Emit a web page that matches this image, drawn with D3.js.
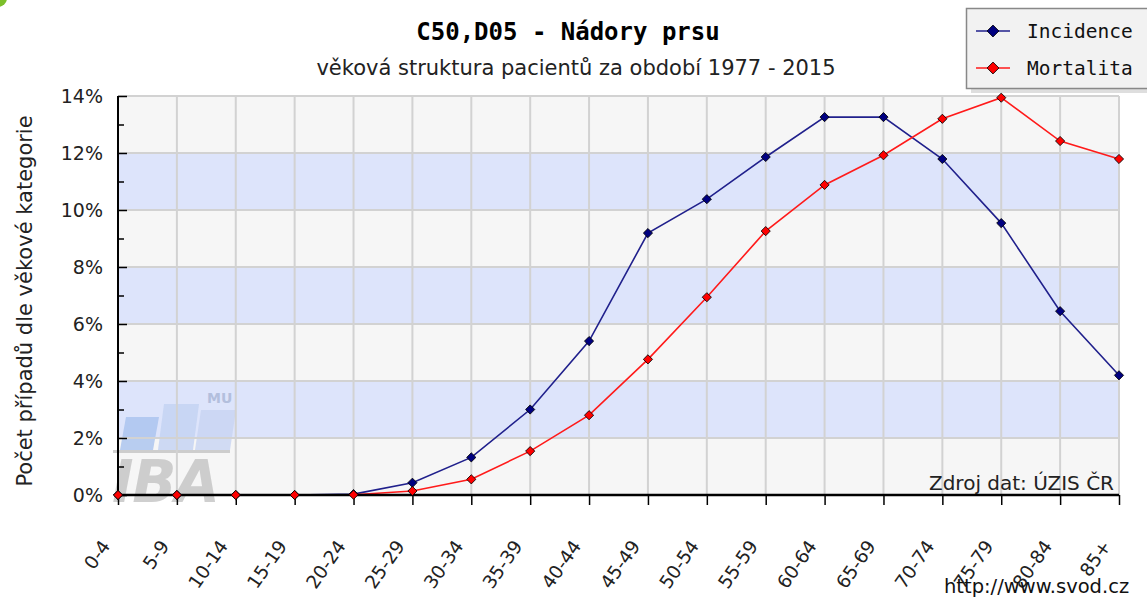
<!DOCTYPE html>
<html lang="cs">
<head>
  <meta charset="UTF-8">
  <title>C50,D05 - Nádory prsu</title>
  <script src="https://d3js.org/d3.v7.min.js"></script>
  <style>
    body { margin: 0; background: #fff; }
    svg { display: block; }
  </style>
</head>
<body>
  <svg id="chart" width="1147" height="599"></svg>
  <script>
    // age groups and shares (% of cases per age group)
    const ageGroups = ['0-4', '5-9', '10-14', '15-19', '20-24', '25-29', '30-34', '35-39', '40-44',
      '45-49', '50-54', '55-59', '60-64', '65-69', '70-74', '75-79', '80-84', '85+'];
    const incidence = [0, 0, 0, 0, 0.03, 0.43, 1.32, 3.0, 5.4, 9.19, 10.38, 11.86, 13.26, 13.26, 11.79, 9.54, 6.45, 4.2];
    const mortalita = [0, 0, 0, 0, 0.01, 0.14, 0.55, 1.54, 2.8, 4.76, 6.94, 9.26, 10.88, 11.92, 13.2, 13.94, 12.42, 11.79];
    const yTicks = [0, 2, 4, 6, 8, 10, 12, 14];

    const series = [
      { name: 'Incidence', values: incidence, color: '#20208c', fill: '#000080' },
      { name: 'Mortalita', values: mortalita, color: '#ff1a1a', fill: '#ff0000' }
    ];

    const svg = d3.select('#chart');
    const plotL = 118, plotR = 1119, plotT = 96, plotB = 495;

    const x = d3.scalePoint().domain(ageGroups).range([plotL, plotR]);
    const y = d3.scaleLinear().domain([0, 14]).range([plotB, plotT]);

    // small green corner mark
    svg.append('circle').attr('cx', -2).attr('cy', -2).attr('r', 9).attr('fill', '#7cbf2a');

    // background bands
    for (let i = 0; i < yTicks.length - 1; i++) {
      svg.append('rect')
        .attr('x', plotL).attr('width', plotR - plotL)
        .attr('y', y(yTicks[i + 1])).attr('height', y(yTicks[i]) - y(yTicks[i + 1]))
        .attr('fill', i % 2 === 1 ? '#dde4fb' : '#f6f6f6');
    }

    // watermark logo
    const wm = svg.append('g').attr('opacity', 0.8);
    [[122, 417, 33], [160, 404, 35], [197, 410, 35]].forEach(([bx, by, bw], i) => {
      wm.append('path')
        .attr('d', `M${bx + 4},${by} L${bx + bw + 4},${by} L${bx + bw - 2},450 L${bx - 2},450 Z`)
        .attr('fill', ['#a9c3ef', '#c3d3f3', '#c8d5f3'][i]);
    });
    wm.append('rect').attr('x', 113).attr('y', 450).attr('width', 117).attr('height', 3).attr('fill', '#c4c4c4');
    wm.append('text').attr('x', 207).attr('y', 403)
      .attr('font-family', 'DejaVu Sans').attr('font-weight', 'bold').attr('font-size', 14)
      .attr('fill', '#a9b6d6').text('MU');
    wm.append('text').attr('x', 112).attr('y', 502)
      .attr('font-family', 'DejaVu Sans').attr('font-weight', 'bold').attr('font-style', 'italic')
      .attr('font-size', 58).attr('fill', '#c4c4c4').attr('textLength', 108).text('IBA');

    // grid
    svg.append('g').selectAll('line').data(yTicks.slice(1)).enter().append('line')
      .attr('x1', plotL).attr('x2', plotR)
      .attr('y1', d => y(d)).attr('y2', d => y(d))
      .attr('stroke', '#d2d2d2').attr('stroke-width', 2);
    svg.append('g').selectAll('line').data(ageGroups.slice(1)).enter().append('line')
      .attr('x1', d => x(d)).attr('x2', d => x(d))
      .attr('y1', plotT).attr('y2', plotB)
      .attr('stroke', '#d2d2d2').attr('stroke-width', 2);

    // lines
    const line = d3.line().x((d, i) => x(ageGroups[i])).y(d => y(d));
    series.forEach(s => {
      svg.append('path').datum(s.values)
        .attr('d', line).attr('fill', 'none')
        .attr('stroke', s.color).attr('stroke-width', 1.6);
    });

    // axes
    const yAxis = d3.axisLeft(y).tickValues(d3.range(0, 15, 1)).tickSize(-9).tickFormat('');
    const gy = svg.append('g').attr('transform', `translate(${plotL},0)`).call(yAxis);
    gy.selectAll('.tick line').attr('x2', d => d % 2 === 0 ? 9 : 6).attr('stroke', '#000').attr('stroke-width', 1.5);
    gy.select('.domain').attr('stroke', '#000').attr('stroke-width', 2).attr('d', `M0,${plotT}V${plotB}`);

    svg.append('g').selectAll('text').data(yTicks).enter().append('text')
      .attr('x', 103).attr('y', d => y(d) + 7)
      .attr('text-anchor', 'end')
      .attr('font-family', 'DejaVu Sans').attr('font-size', 19)
      .attr('fill', '#222').text(d => d + '%');

    const xAxis = d3.axisBottom(x).tickSize(10).tickFormat('');
    const gx = svg.append('g').attr('transform', `translate(0,${plotB})`).call(xAxis);
    gx.selectAll('.tick line').attr('stroke', '#000').attr('stroke-width', 1.5);
    gx.select('.domain').attr('stroke', '#000').attr('stroke-width', 2.5).attr('d', `M${plotL},0H${plotR}`);

    svg.append('g').selectAll('text').data(ageGroups).enter().append('text')
      .attr('transform', d => `translate(${x(d) - 7},${plotB + 51}) rotate(-55)`)
      .attr('text-anchor', 'end')
      .attr('font-family', 'DejaVu Sans').attr('font-size', 18.5)
      .attr('fill', '#222').text(d => d);

    // markers drawn over the axis
    const diamond = d3.symbol().type(d3.symbolSquare).size(42);
    series.forEach(s => {
      svg.append('g').selectAll('path').data(s.values).enter().append('path')
        .attr('d', diamond)
        .attr('transform', (d, i) => `translate(${x(ageGroups[i])},${y(d)}) rotate(45)`)
        .attr('fill', s.fill).attr('stroke', '#000').attr('stroke-width', 0.8);
    });

    // titles
    svg.append('text').attr('x', 568).attr('y', 40).attr('text-anchor', 'middle')
      .attr('font-family', 'DejaVu Sans Mono').attr('font-weight', 'bold').attr('font-size', 24)
      .attr('fill', '#000').text('C50,D05 - Nádory prsu');
    svg.append('text').attr('x', 576).attr('y', 75).attr('text-anchor', 'middle')
      .attr('font-family', 'DejaVu Sans').attr('font-size', 21)
      .attr('fill', '#222').text('věková struktura pacientů za období 1977 - 2015');
    svg.append('text')
      .attr('transform', 'translate(32,301) rotate(-90)').attr('text-anchor', 'middle')
      .attr('font-family', 'DejaVu Sans').attr('font-size', 21)
      .attr('fill', '#222').text('Počet případů dle věkové kategorie');

    svg.append('text').attr('x', 1114).attr('y', 490).attr('text-anchor', 'end')
      .attr('font-family', 'DejaVu Sans').attr('font-size', 20)
      .attr('fill', '#222').text('Zdroj dat: ÚZIS ČR');
    svg.append('text').attr('x', 944).attr('y', 593)
      .attr('font-family', 'DejaVu Sans').attr('font-size', 19.5)
      .attr('fill', '#111').text('http://www.svod.cz');

    // legend
    const lg = svg.append('g');
    lg.append('rect').attr('x', 971).attr('y', 13).attr('width', 180).attr('height', 80)
      .attr('fill', '#c8c8c8').attr('opacity', 0.6);
    lg.append('rect').attr('x', 966.5).attr('y', 8.5).attr('width', 182).attr('height', 80)
      .attr('fill', '#f2f2f2').attr('stroke', '#888').attr('stroke-width', 1.5);
    series.forEach((s, i) => {
      const ly = 31 + i * 37;
      lg.append('line').attr('x1', 976).attr('x2', 1010).attr('y1', ly).attr('y2', ly)
        .attr('stroke', s.color).attr('stroke-width', 1.6);
      lg.append('path').attr('d', d3.symbol().type(d3.symbolSquare).size(70))
        .attr('transform', `translate(993,${ly}) rotate(45)`)
        .attr('fill', s.fill).attr('stroke', '#000').attr('stroke-width', 0.8);
      lg.append('text').attr('x', 1027).attr('y', ly + 7)
        .attr('font-family', 'DejaVu Sans Mono').attr('font-size', 19.5)
        .attr('fill', '#111').text(s.name);
    });
  </script>
</body>
</html>
